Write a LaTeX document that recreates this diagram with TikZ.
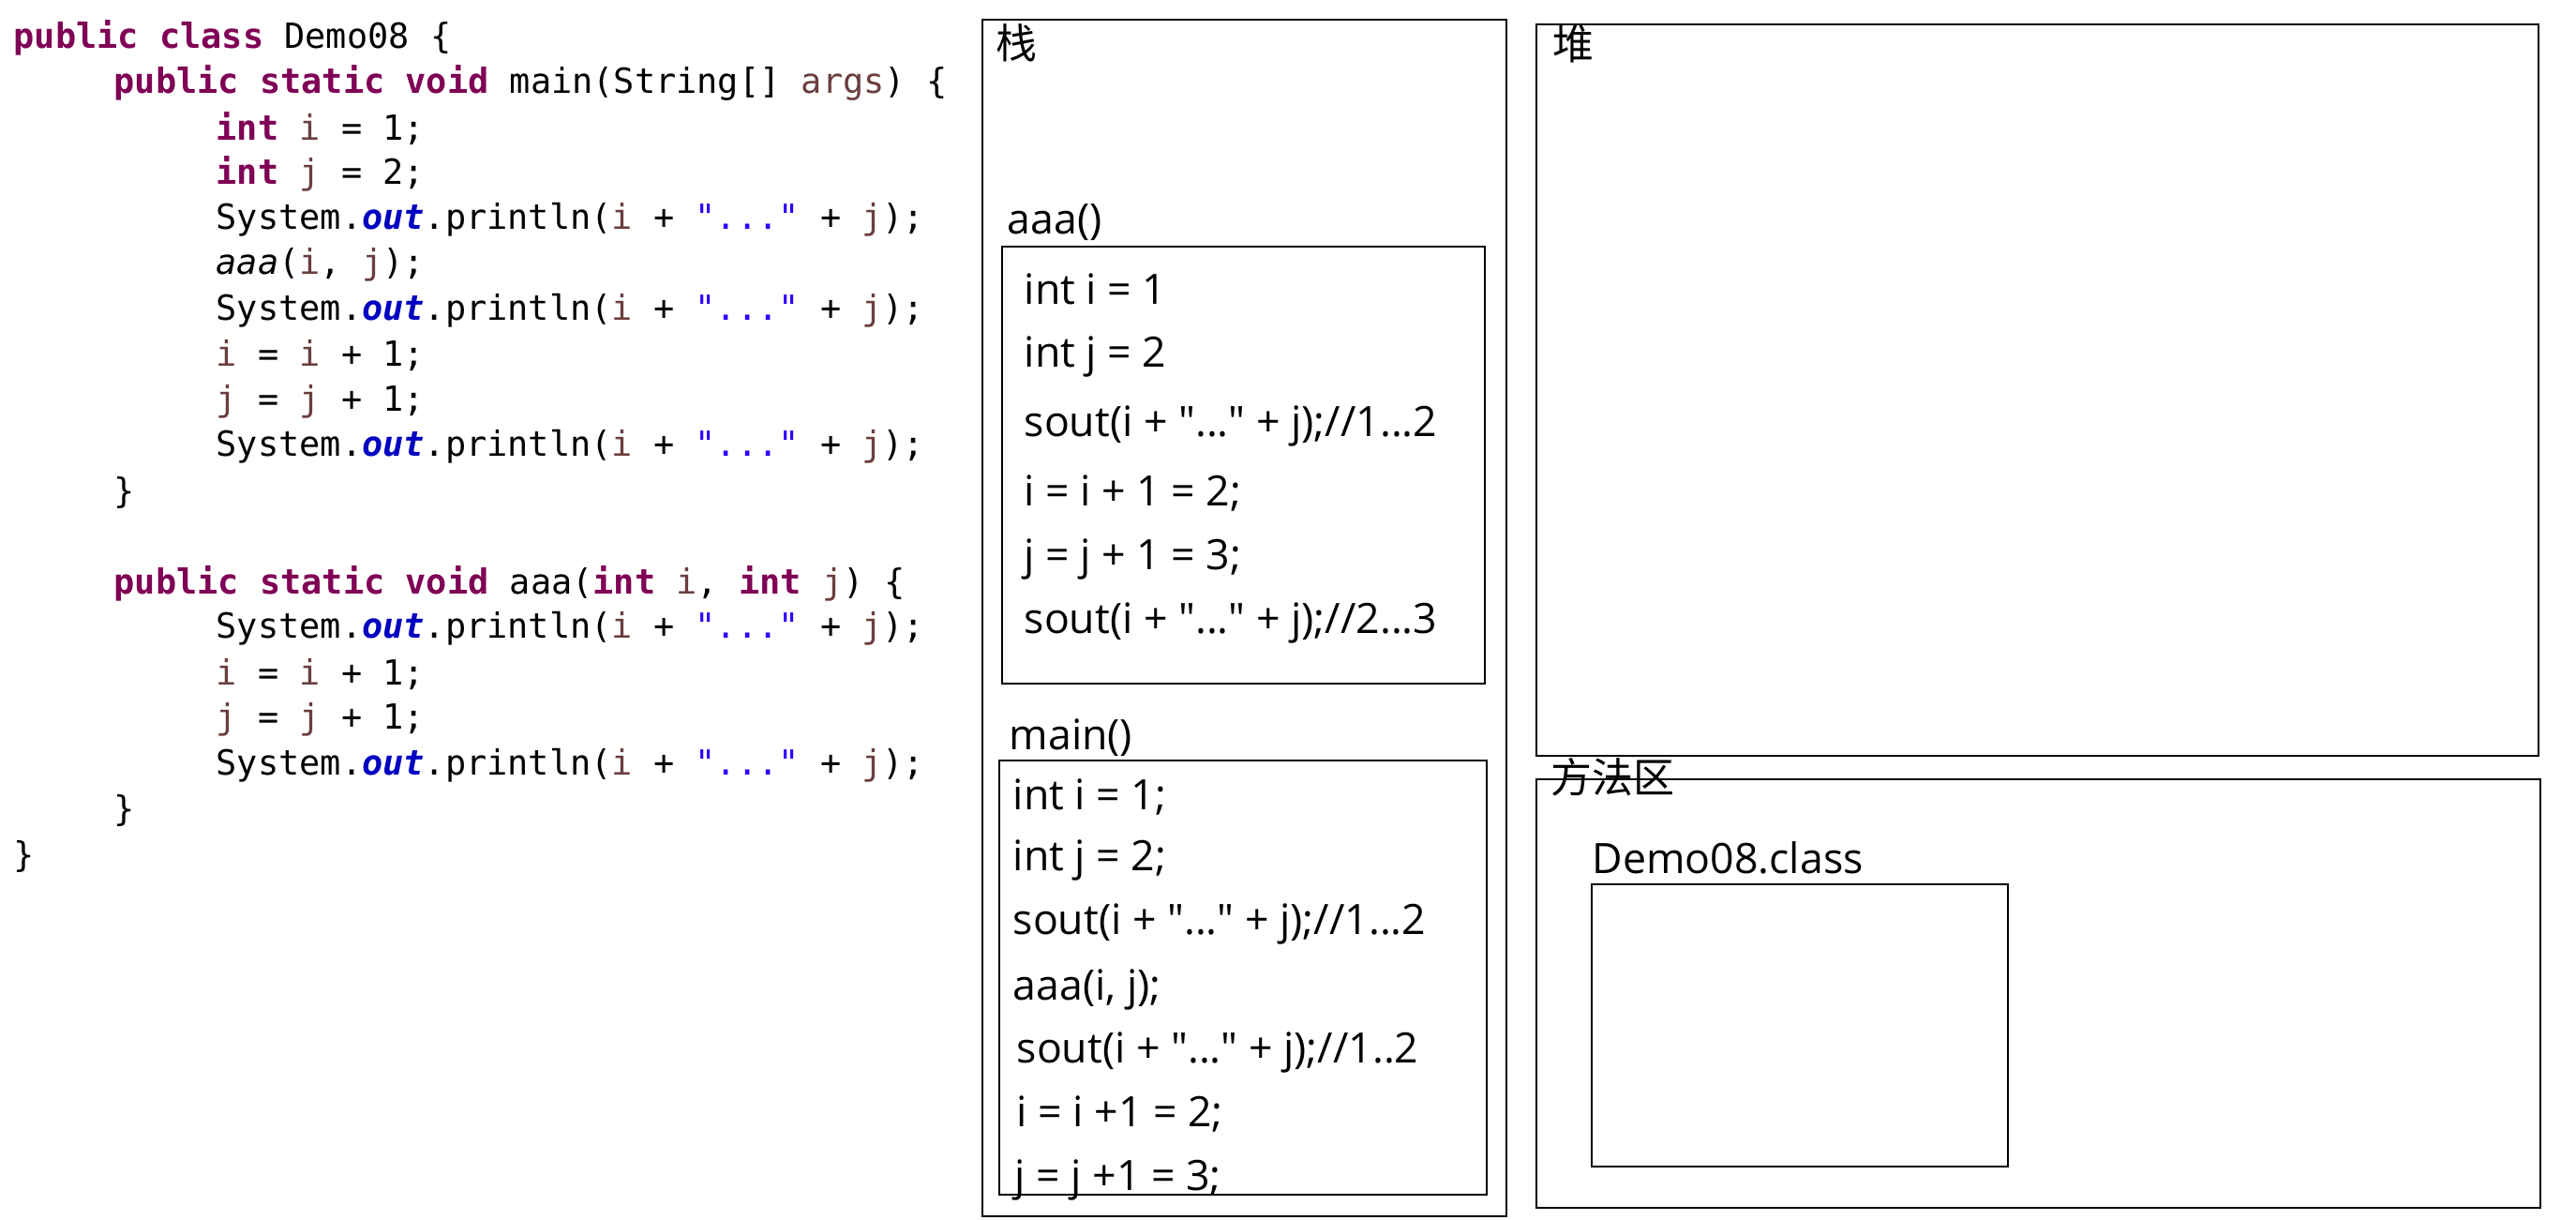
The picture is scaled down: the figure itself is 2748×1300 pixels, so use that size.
\documentclass[tikz,border=0pt]{standalone}
\usepackage{fontspec}
\usepackage{tikz}
\setmainfont{Open Sans}
\newfontfamily\codefont{DejaVu Sans Mono}
\newfontfamily\boxfont{Open Sans}
\newfontfamily\cjkfont{Noto Sans CJK SC}
\definecolor{kwdcol}{HTML}{7F0055}
\definecolor{varcol}{HTML}{6A3E3E}
\definecolor{fldcol}{HTML}{0000C0}
\definecolor{litcol}{HTML}{2A00FF}
\newcommand\kwd[1]{\textcolor{kwdcol}{\bfseries #1}}
\newcommand\lvar[1]{\textcolor{varcol}{#1}}
\newcommand\sfield[1]{\textcolor{fldcol}{\bfseries\itshape #1}}
\newcommand\slit[1]{\textcolor{litcol}{#1}}
\tikzset{
  codeline/.style={anchor=west, inner sep=0pt, font=\codefont\fontsize{10.5}{12}\selectfont},
  memline/.style={anchor=west, inner sep=0pt, font=\boxfont\fontsize{12.7}{15}\selectfont},
  arealabel/.style={anchor=west, inner sep=0pt, font=\cjkfont\fontsize{12.5}{15}\selectfont},
  regionbox/.style={line width=0.8pt}
}

\begin{document}
\begin{tikzpicture}[x=0.1mm, y=-0.1mm]
  \useasboundingbox (0,0) rectangle (2748,1300);

  \node[codeline] (c1) at (14,40) {\kwd{public class} Demo08 \{};
  \node[codeline] (c2) at (121,88.5) {\kwd{public static void} main(String[] \lvar{args}) \{};
  \node[codeline] (c3) at (230,137) {\kwd{int} \lvar{i} = 1;};
  \node[codeline] (c4) at (230,185.5) {\kwd{int} \lvar{j} = 2;};
  \node[codeline] (c5) at (230,234) {System.\sfield{out}.println(\lvar{i} + \slit{"..."} + \lvar{j});};
  \node[codeline] (c6) at (230,282.5) {\textit{aaa}(\lvar{i}, \lvar{j});};
  \node[codeline] (c7) at (230,331) {System.\sfield{out}.println(\lvar{i} + \slit{"..."} + \lvar{j});};
  \node[codeline] (c8) at (230,379.5) {\lvar{i} = \lvar{i} + 1;};
  \node[codeline] (c9) at (230,428) {\lvar{j} = \lvar{j} + 1;};
  \node[codeline] (c10) at (230,476.5) {System.\sfield{out}.println(\lvar{i} + \slit{"..."} + \lvar{j});};
  \node[codeline] (c11) at (121,525) {\}};
  \node[codeline] (c13) at (121,622) {\kwd{public static void} aaa(\kwd{int} \lvar{i}, \kwd{int} \lvar{j}) \{};
  \node[codeline] (c14) at (230,670.5) {System.\sfield{out}.println(\lvar{i} + \slit{"..."} + \lvar{j});};
  \node[codeline] (c15) at (230,719) {\lvar{i} = \lvar{i} + 1;};
  \node[codeline] (c16) at (230,767.5) {\lvar{j} = \lvar{j} + 1;};
  \node[codeline] (c17) at (230,816) {System.\sfield{out}.println(\lvar{i} + \slit{"..."} + \lvar{j});};
  \node[codeline] (c18) at (121,864.5) {\}};
  \node[codeline] (c19) at (14,913) {\}};

  \draw[regionbox] (1048,21) rectangle (1607,1297);
  \draw[regionbox] (1069,263) rectangle (1584,729);
  \draw[regionbox] (1066,811) rectangle (1586,1274);
  \draw[regionbox] (1639,26) rectangle (2708,806);
  \draw[regionbox] (1639,831) rectangle (2710,1288);
  \draw[regionbox] (1698,943) rectangle (2142,1244);

  \node[arealabel] (stack) at (1062,46) {栈};
  \node[arealabel] (heap) at (1656,47) {堆};
  \node[arealabel] (method) at (1654,829) {方法区};

  \node[memline] (aaa) at (1074,237) {aaa()};
  \node[memline] (a1) at (1092,308) {int i = 1};
  \node[memline] (a2) at (1092,380) {int j = 2};
  \node[memline] (a3) at (1092,454) {sout(i + "..." + j);//1...2};
  \node[memline] (a4) at (1092,526) {i = i + 1 = 2;};
  \node[memline] (a5) at (1092,596) {j = j + 1 = 3;};
  \node[memline] (a6) at (1092,664) {sout(i + "..." + j);//2...3};

  \node[memline] (main) at (1076,787) {main()};
  \node[memline] (m1) at (1080,850) {int i = 1;};
  \node[memline] (m2) at (1080,917) {int j = 2;};
  \node[memline] (m3) at (1080,985) {sout(i + "..." + j);//1...2};
  \node[memline] (m4) at (1080,1055) {aaa(i, j);};
  \node[memline] (m5) at (1084,1122) {sout(i + "..." + j);//1..2};
  \node[memline] (m6) at (1084,1188) {i = i +1 = 2;};
  \node[memline] (m7) at (1082,1258) {j = j +1 = 3;};

  \node[memline] (cls) at (1698,915) {Demo08.class};
\end{tikzpicture}
\end{document}
